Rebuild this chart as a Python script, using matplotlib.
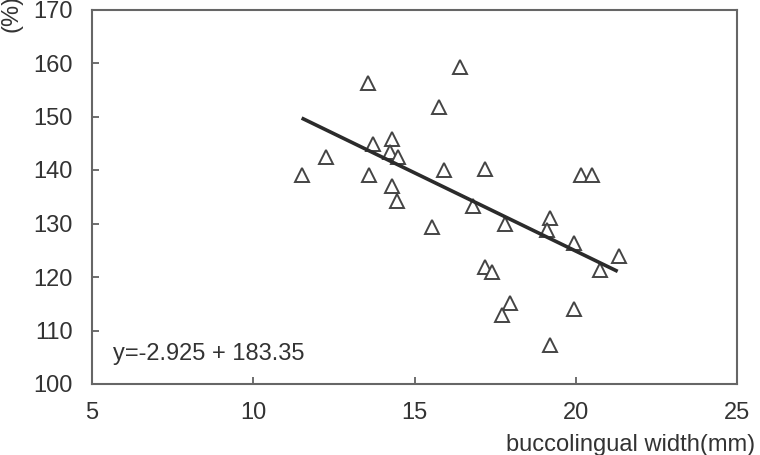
import numpy as np
import matplotlib
matplotlib.use('Agg')
import matplotlib.pyplot as plt

plt.rcParams['font.family'] = ['Liberation Sans', 'DejaVu Sans']

# measured points (buccolingual width, %)
width_mm = [11.5, 12.25, 13.55, 13.7, 13.6, 14.3, 14.25, 14.5, 14.3, 14.45,
            15.55, 15.75, 15.9, 16.4, 16.8, 17.2, 17.2, 17.4, 17.8, 17.95,
            17.7, 19.2, 19.1, 19.2, 19.95, 19.95, 20.15, 20.5, 20.75, 21.35]
percent = [139.0, 142.5, 156.2, 144.9, 139.1, 145.8, 143.4, 142.4, 137.1, 134.2,
           129.3, 151.8, 140.0, 159.2, 133.3, 140.2, 121.9, 121.0, 129.9, 115.1,
           112.9, 131.0, 128.8, 107.3, 126.4, 114.0, 139.1, 139.1, 121.3, 124.0]

slope = -2.925
intercept = 183.35
fit_range = [11.5, 21.3]
equation = 'y=-2.925 + 183.35'

x_ticks = [5, 10, 15, 20, 25]
y_ticks = [100, 110, 120, 130, 140, 150, 160, 170]

fig = plt.figure(figsize=(7.6, 4.55), dpi=100)
ax = fig.add_axes([92 / 760, 1 - 384 / 455, (737 - 92) / 760, (384 - 9.5) / 455])

ax.plot(width_mm, percent, linestyle='none', marker='^', markersize=10,
        markerfacecolor='white', markeredgecolor='#444444', markeredgewidth=1.4)

fx = np.array(fit_range)
ax.plot(fx, slope * fx + intercept, color='#2b2b2b', linewidth=2.6, solid_capstyle='butt')

ax.set_xlim(5, 25)
ax.set_ylim(100, 170)
ax.set_xticks(x_ticks)
ax.set_yticks(y_ticks)

for s in ax.spines.values():
    s.set_color('#666666')
    s.set_linewidth(1.5)

ax.tick_params(which='both', direction='in', length=5, width=1.2, color='#555555',
               labelsize=17, labelcolor='#333333')
ax.tick_params(axis='y', pad=14)
ax.tick_params(axis='x', pad=13)

ax.text(5.65, 105.6, equation, fontsize=17, color='#333333', va='center', ha='left')

fig.text(506 / 760, 1 - 445 / 455, 'buccolingual width(mm)', fontsize=17,
         color='#333333', ha='left', va='center')
fig.text(11 / 760, 1 - 32 / 455, '(%)', fontsize=17, color='#333333',
         rotation=90, ha='center', va='bottom')

fig.savefig('out.png', dpi=100)
